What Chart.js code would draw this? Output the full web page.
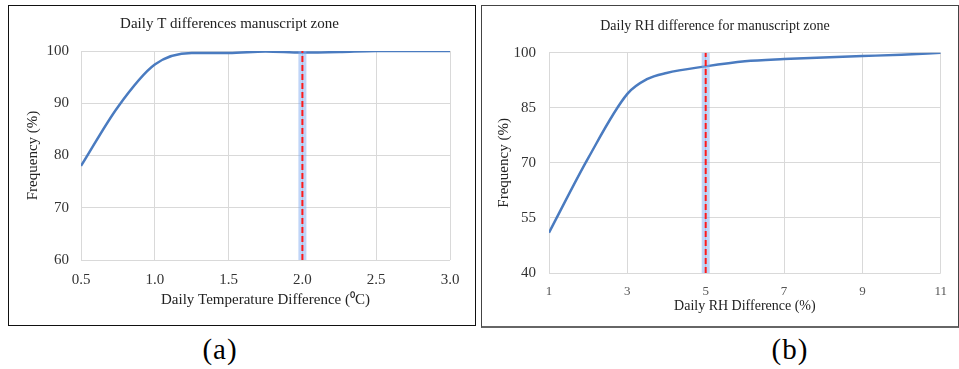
<!DOCTYPE html>
<html>
<head>
<meta charset="utf-8">
<script src="https://cdn.jsdelivr.net/npm/chart.js@4"></script>
<style>
  html, body { margin:0; padding:0; background:#fff; }
  body { width:959px; height:369px; position:relative; overflow:hidden; font-family:"Liberation Serif", serif; }
  .panel { position:absolute; box-sizing:border-box; background:#fff; }
  #pa { left:8px; top:5px; width:468px; height:321px; border:1px solid #111; }
  #pb { left:481px; top:5px; width:478px; height:323px; border:1px solid #444; border-bottom:2px solid #666; }
  .cap { position:absolute; top:333px; font-size:29px; letter-spacing:1px; color:#000; transform:translateX(-50%); }
</style>
</head>
<body>
<div class="panel" id="pa"><canvas id="ca" width="466" height="319"></canvas></div>
<div class="panel" id="pb"><canvas id="cb" width="476" height="320"></canvas></div>
<div class="cap" style="left:220px">(a)</div>
<div class="cap" style="left:790px">(b)</div>
<script>
// ---- data (a): daily temperature difference ----
const tempDiff = [0.5, 0.75, 1.0, 1.25, 1.5, 1.75, 2.0, 2.25, 2.5, 2.75, 3.0];
const tempFreq = [78.0, 89.3, 97.4, 99.6, 99.6, 99.9, 99.7, 99.8, 100.0, 100.0, 100.0];
const tempMarkX = 2.0;
const tempYTicks = [60, 70, 80, 90, 100];
const tempXTicks = [0.5, 1.0, 1.5, 2.0, 2.5, 3.0];

// ---- data (b): daily RH difference ----
const rhDiff = [1, 2, 3, 3.5, 4, 5, 6, 7, 8, 9, 10, 11];
const rhFreq = [51.0, 71.3, 88.8, 92.8, 94.5, 96.3, 97.7, 98.3, 98.7, 99.1, 99.5, 100.0];
const rhMarkX = 5;
const rhYTicks = [40, 55, 70, 85, 100];
const rhXTicks = [1, 3, 5, 7, 9, 11];

const FONT = "'Liberation Serif', 'Times New Roman', serif";
const GRID = '#d9d9d9';
const LINE = '#4a7bc0';

function makeChart(id, opt) {
  const xs = opt.x, ys = opt.y;
  const pts = xs.map((v, i) => ({x: v, y: ys[i]}));
  const ymin = opt.yTicks[0], ymax = opt.yTicks[opt.yTicks.length - 1];
  const xmin = opt.xTicks[0], xmax = opt.xTicks[opt.xTicks.length - 1];
  const markPts = [{x: opt.mark, y: ymin}, {x: opt.mark, y: ymax}];
  return new Chart(document.getElementById(id), {
    type: 'line',
    data: {
      datasets: [
        { data: pts, borderColor: LINE, borderWidth: 2.5, pointRadius: 0, fill: false,
          cubicInterpolationMode: 'monotone', order: 3 },
        { data: markPts, borderColor: 'rgba(130,172,242,0.5)', borderWidth: 8, pointRadius: 0, fill: false, order: 2 },
        { data: markPts, borderColor: '#ff1a1a', borderWidth: 2, borderDash: [6, 3], pointRadius: 0, fill: false, order: 1 }
      ]
    },
    options: {
      responsive: false, animation: false, devicePixelRatio: 1,
      layout: { padding: { left: 0, right: opt.padRight, top: 0, bottom: opt.padBottom } },
      plugins: {
        legend: { display: false }, tooltip: { enabled: false },
        title: { display: true, text: opt.title, color: '#222',
          font: { family: FONT, size: opt.titleSize, weight: 'normal' },
          padding: { top: opt.titleTop, bottom: opt.titleBottom } }
      },
      scales: {
        x: { type: 'linear', min: xmin, max: xmax,
          afterBuildTicks: s => { s.ticks = opt.xTicks.map(v => ({value: v})); },
          afterFit: s => { s.height = opt.xHeight; },
          grid: { color: GRID, drawTicks: false, lineWidth: 1 },
          border: { display: false },
          ticks: { padding: opt.xTickPad, color: opt.xTickColor, font: { family: FONT, size: opt.xTickSize },
            callback: opt.xFmt, maxRotation: 0, autoSkip: false },
          title: { display: true, text: opt.xTitle, color: '#222', font: { family: FONT, size: opt.xTitleSize },
            padding: { top: 0, bottom: 0 } } },
        y: { type: 'linear', min: ymin, max: ymax,
          afterBuildTicks: s => { s.ticks = opt.yTicks.map(v => ({value: v})); },
          afterFit: s => { s.width = opt.yWidth; },
          grid: { color: GRID, drawTicks: false, lineWidth: 1 },
          border: { display: false },
          ticks: { padding: opt.yTickPad, color: '#333', font: { family: FONT, size: 15 } },
          title: { display: true, text: 'Frequency (%)', color: '#222', font: { family: FONT, size: 15 },
            padding: { top: opt.yTitlePad, bottom: 0 } } }
      }
    }
  });
}

makeChart('ca', {
  x: tempDiff, y: tempFreq, mark: tempMarkX, yTicks: tempYTicks, xTicks: tempXTicks,
  title: 'Daily T differences manuscript zone', titleSize: 15,
  xTitle: 'Daily Temperature Difference (\u2070C)', xTitleSize: 15,
  xFmt: v => Number(v).toFixed(1),
  padRight: 25, padBottom: 16, titleTop: 9, titleBottom: 18, xHeight: 49, xTickPad: 11, xTickSize: 15,
  xTickColor: '#333',
  yWidth: 72, yTickPad: 12, yTitlePad: 15
});

makeChart('cb', {
  x: rhDiff, y: rhFreq, mark: rhMarkX, yTicks: rhYTicks, xTicks: rhXTicks,
  title: 'Daily RH difference for manuscript zone', titleSize: 14,
  xTitle: 'Daily RH Difference (%)', xTitleSize: 14,
  xFmt: v => String(v),
  padRight: 10, padBottom: 11, titleTop: 12, titleBottom: 18, xHeight: 42, xTickPad: 11, xTickSize: 13,
  xTickColor: '#555',
  yWidth: 67, yTickPad: 13, yTitlePad: 13
});
</script>
</body>
</html>
